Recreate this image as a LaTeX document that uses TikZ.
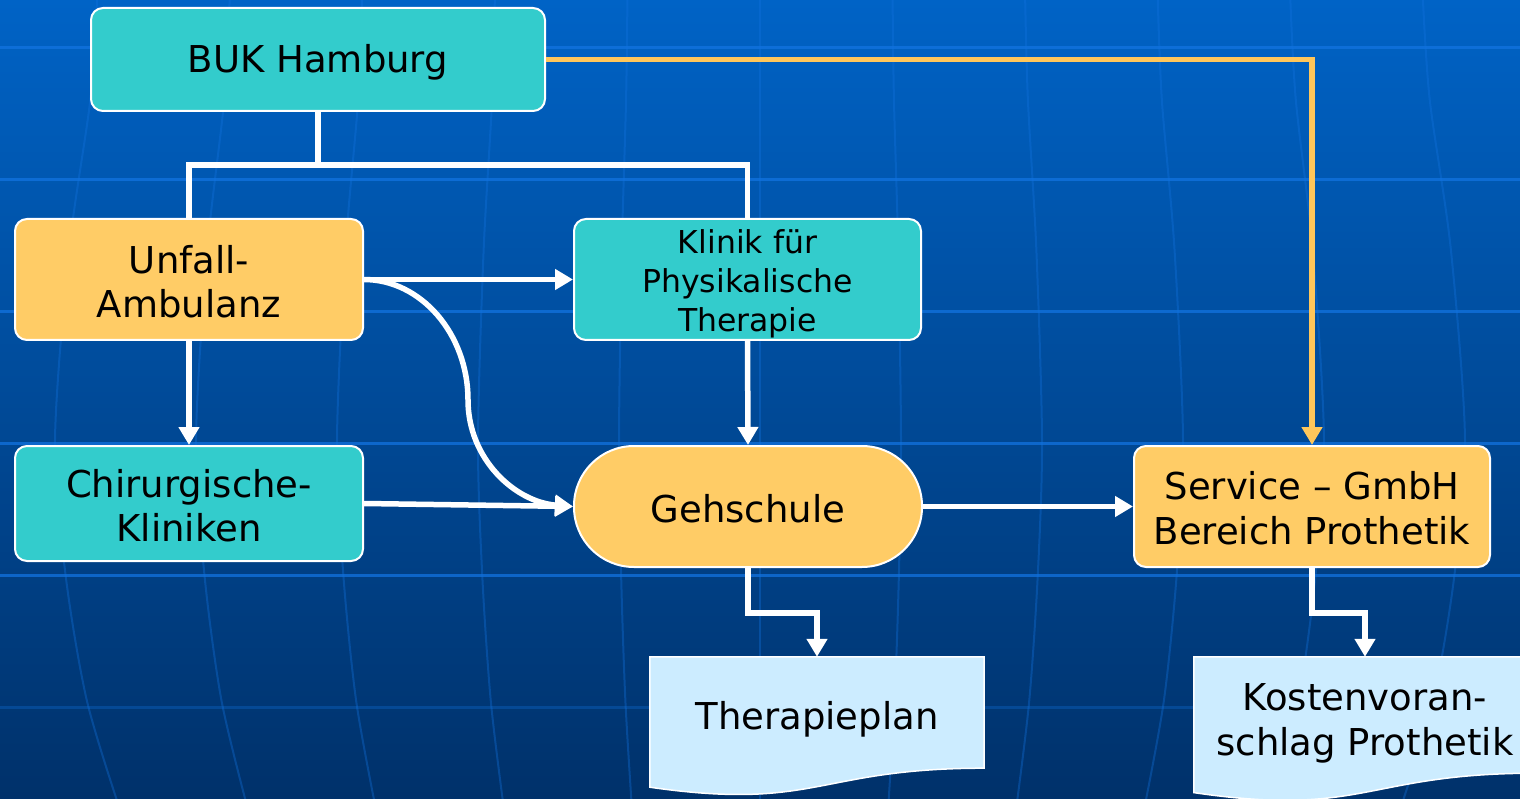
\documentclass[tikz,border=0pt]{standalone}
\usepackage{fontspec}
\setmainfont{DejaVu Sans}
\usetikzlibrary{arrows.meta,calc}
\definecolor{tealbox}{HTML}{33CCCC}
\definecolor{orngbox}{HTML}{FFCC66}
\definecolor{docblue}{HTML}{CCECFF}
\definecolor{orngline}{HTML}{FFC65A}
\definecolor{bgtop}{HTML}{0063C6}
\definecolor{bgmid}{HTML}{0051A4}
\definecolor{bgbot}{HTML}{00316A}
\definecolor{gridcol}{HTML}{1273E0}
\pgfdeclarelayer{bglayer}
\pgfdeclarelayer{shapelayer}
\pgfsetlayers{bglayer,shapelayer,main}
\begin{document}
\begin{tikzpicture}[x=1pt,y=-1pt,
  box/.style={draw=white, line width=2pt, rounded corners=12pt, inner sep=0pt},
  txt/.style={align=center, text=black, inner sep=0pt, font=\fontsize{37}{44}\selectfont},
  smalltxt/.style={txt, font=\fontsize{31.5}{39}\selectfont},
  widetxt/.style={txt, font=\fontsize{37}{45}\selectfont},
  doctext/.style={inner sep=0pt},
  wline/.style={draw=white, line width=5.5pt},
  warr/.style={wline, -{Triangle[width=20pt,length=18pt]}},
  oarr/.style={draw=orngline, line width=5.5pt, -{Triangle[width=20pt,length=18pt]}},
  docshape/.style={fill=docblue, draw=white, line width=1.5pt},
  hgrid/.style={draw=gridcol, line width=3pt, opacity=0.75},
  mgrid/.style={draw=gridcol, line width=2pt, opacity=0.35}]
\path[use as bounding box] (0,0) rectangle (1520,799);
\clip (0,0) rectangle (1520,799);

\begin{pgfonlayer}{bglayer}
  \shade[top color=bgtop, middle color=bgmid, bottom color=bgbot] (0,0) rectangle (1520,799);
  \foreach \yy in {48,180,312,443,575} \draw[hgrid] (0,\yy) -- (1520,\yy);
  \draw[hgrid, opacity=0.3] (0,707) -- (1520,707);
  \foreach \k in {-5,...,5}
    \draw[mgrid] plot[smooth] coordinates {({760+\k*141*0.94},-5) ({760+\k*141*0.95},100) ({760+\k*141*0.98},250) ({760+\k*141},440) ({760+\k*141*0.985},575) ({760+\k*141*0.955},700) ({760+\k*141*0.91},805)};
\end{pgfonlayer}

% nodes
\node[box, fill=tealbox, minimum width=454pt, minimum height=103pt,
  label={[txt, yshift=-3pt]center:BUK Hamburg}] (buk) at (318,59.5) {};
\node[box, fill=orngbox, minimum width=348pt, minimum height=121pt,
  label={[txt, yshift=-2pt]center:Unfall-\\Ambulanz}] (unf) at (189,279.5) {};
\node[box, fill=tealbox, minimum width=347pt, minimum height=121pt,
  label={[smalltxt, yshift=-4pt]center:Klinik für\\Physikalische\\Therapie}] (kl) at (747.5,279.5) {};
\node[box, fill=tealbox, minimum width=348pt, minimum height=115pt,
  label={[txt, yshift=-2pt]center:Chirurgische-\\Kliniken}] (chir) at (189,503.5) {};
\node[box, fill=orngbox, rounded corners=60pt, minimum width=348pt, minimum height=121pt,
  label={[txt, yshift=-2pt]center:Gehschule}] (gs) at (748,506.5) {};
\node[box, fill=orngbox, minimum width=356pt, minimum height=121pt,
  label={[widetxt, yshift=-2pt]center:Service – GmbH\\Bereich Prothetik}] (svc) at (1312,506.5) {};
\node[doctext, minimum width=334pt, minimum height=111pt,
  label={[txt, yshift=-7pt]center:Therapieplan}] (tp) at (817,712.5) {};
\node[doctext, minimum width=342pt, minimum height=116pt,
  label={[widetxt, yshift=-8pt]center:Kostenvoran-\\schlag Prothetik}] (ko) at (1365,715) {};

\begin{pgfonlayer}{shapelayer}
  \path[docshape] (tp.north west) -- (tp.north east) -- (tp.south east)
    .. controls (tp.south) and ($(tp.south)+(0,43)$) .. ($(tp.south west)+(0,19)$) -- cycle;
  \path[docshape] (ko.north west) -- (ko.north east) -- (ko.south east)
    .. controls (ko.south) and ($(ko.south)+(0,44.6)$) .. ($(ko.south west)+(0,19.4)$) -- cycle;
\end{pgfonlayer}

% connectors
\coordinate (bj) at (318,165);
\draw[wline] (buk.south) -- (bj);
\draw[wline] (unf.north) |- (bj) -| (kl.north);
\draw[warr] (unf.east) -- (kl.west);
\draw[warr] (unf.east) .. controls (421,279.5) and (468,334) .. (468,400) .. controls (468,459) and (515,502) .. (gs.west);
\draw[warr] (unf.south) -- (chir.north);
\draw[warr] (chir.east) -- (gs.west);
\draw[warr] (kl.south) -- (gs.north);
\draw[warr] (gs.east) -- (svc.west);
\draw[warr] (gs.south) -- ++(0,45) -| (tp.north);
\draw[warr] (svc.south) -- ++(0,45) -| (ko.north);
\draw[oarr] (buk.east) -| (svc.north);
\end{tikzpicture}
\end{document}
